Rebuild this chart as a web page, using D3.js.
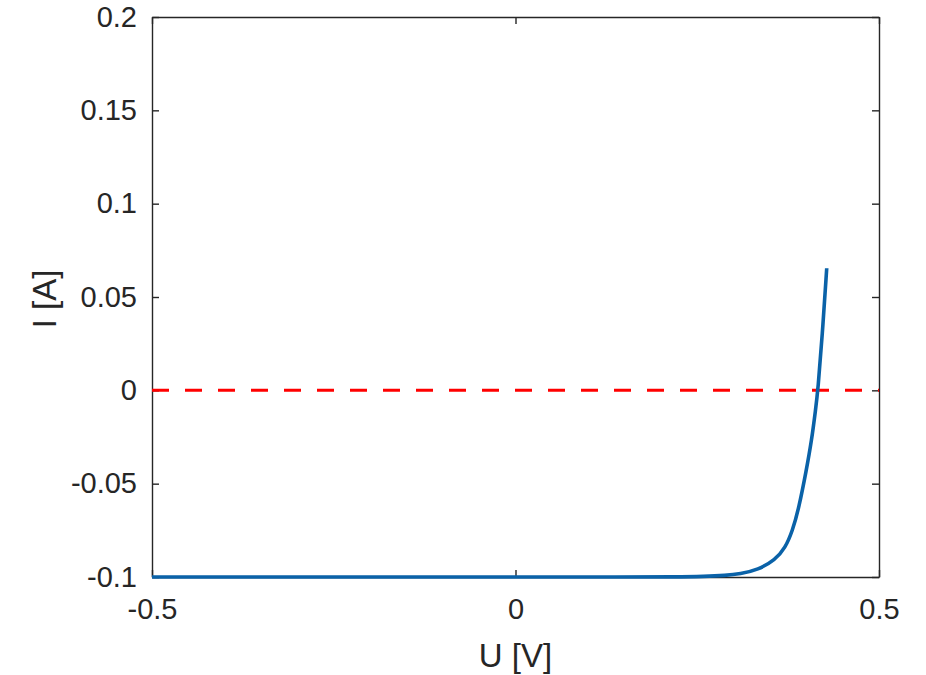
<html>
<head>
<meta charset="utf-8">
<script src="https://d3js.org/d3.v7.min.js"></script>
<style>
  body { margin: 0; background: #fff; }
  text { font-family: "Liberation Sans", Arial, sans-serif; fill: #262626; }
</style>
</head>
<body>
<script>
var width = 926,
    height = 675;

// I-V curve
var voltage = [-0.5, -0.2, 0, 0.15, 0.22, 0.26, 0.2888, 0.3088, 0.3336, 0.357, 0.371, 0.381, 0.3895, 0.4, 0.4074, 0.4127, 0.416, 0.422, 0.4281];
var current = [-0.1, -0.1, -0.1, -0.1, -0.09995, -0.0997, -0.0992, -0.0984, -0.0962, -0.0909, -0.0845, -0.0752, -0.0635, -0.043, -0.0266, -0.0105, 0, 0.0296, 0.0654];

var xTicks = [-0.5, 0, 0.5];
var yTicks = [-0.1, -0.05, 0, 0.05, 0.1, 0.15, 0.2];

var margin = {left: 152, right: 47, top: 17, bottom: 98};

var svg = d3.select("body")
  .append("svg")
  .attr("width", width)
  .attr("height", height);

var x = d3.scaleLinear()
  .domain([-0.5, 0.5])
  .range([margin.left, width - margin.right]);

var y = d3.scaleLinear()
  .domain([-0.1, 0.2])
  .range([height - margin.bottom, margin.top]);

var tickLen = 7;
var fmt = d => String(d);

// axes box with inward ticks
svg.append("g")
  .attr("transform", "translate(0," + y(-0.1) + ")")
  .call(d3.axisBottom(x).tickValues(xTicks).tickSizeInner(-tickLen).tickSizeOuter(0).tickPadding(21).tickFormat(fmt))
  .call(g => g.selectAll("text").attr("font-size", 29).attr("dy", "0.71em"));

svg.append("g")
  .attr("transform", "translate(0," + y(0.2) + ")")
  .call(d3.axisTop(x).tickValues(xTicks).tickSizeInner(-tickLen).tickSizeOuter(0).tickFormat(""));

svg.append("g")
  .attr("transform", "translate(" + x(-0.5) + ",0)")
  .call(d3.axisLeft(y).tickValues(yTicks).tickSizeInner(-tickLen).tickSizeOuter(0).tickPadding(15).tickFormat(fmt))
  .call(g => g.selectAll("text").attr("font-size", 29));

svg.append("g")
  .attr("transform", "translate(" + x(0.5) + ",0)")
  .call(d3.axisRight(y).tickValues(yTicks).tickSizeInner(-tickLen).tickSizeOuter(0).tickFormat(""));

svg.selectAll(".domain, .tick line")
  .attr("stroke", "#262626")
  .attr("stroke-width", 1.4);

// zero line
svg.append("line")
  .attr("x1", x(-0.5))
  .attr("x2", x(0.5))
  .attr("y1", y(0))
  .attr("y2", y(0))
  .attr("stroke", "#ff0000")
  .attr("stroke-width", 3)
  .attr("stroke-dasharray", "17,16");

var line = d3.line()
  .x((d, i) => x(voltage[i]))
  .y(d => y(d))
  .curve(d3.curveBasis);

svg.append("path")
  .datum(current)
  .attr("d", line)
  .attr("fill", "none")
  .attr("stroke", "#0a62a8")
  .attr("stroke-width", 3.6);

svg.append("text")
  .attr("x", x(0))
  .attr("y", 667)
  .attr("text-anchor", "middle")
  .attr("font-size", 33)
  .text("U [V]");

svg.append("text")
  .attr("transform", "translate(56," + (y(0.05) + 2) + ") rotate(-90)")
  .attr("text-anchor", "middle")
  .attr("font-size", 33)
  .text("I [A]");
</script>
</body>
</html>
